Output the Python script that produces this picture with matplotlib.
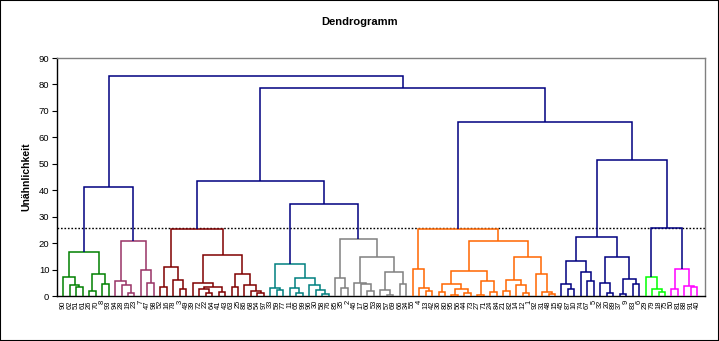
import matplotlib
matplotlib.use("Agg")
import matplotlib.pyplot as plt
from matplotlib.patches import Rectangle

plt.rcParams['font.family'] = ['Liberation Sans', 'DejaVu Sans']

# ---------------- data ----------------
leaf_labels = [90, 62, 51, 61, 26, 70, 8, 93, 94, 28, 19, 23, 7, 47, 98, 52, 16, 78, 3, 49,
               39, 72, 22, 64, 41, 43, 63, 25, 86, 68, 54, 97, 33, 59, 77, 11, 65, 99, 96, 30,
               58, 76, 85, 35, 2, 46, 17, 60, 53, 38, 57, 69, 66, 34, 55, 4, 13, 42, 36, 80,
               95, 56, 44, 73, 27, 71, 24, 84, 21, 82, 14, 12, 1, 92, 31, 48, 15, 45, 87, 10,
               74, 67, 5, 32, 20, 89, 37, 9, 83, 6, 29, 79, 18, 75, 50, 81, 88, 91, 40]

# sub-trees: (left, right, merge height); ints are leaf positions
green_tree = ((0, (1, (2, 3, 3.3), 4.2), 7.1), ((4, 5, 1.8), (6, 7, 4.5), 8.3), 16.5)
purple_tree = ((8, (9, (10, 11, 1.1), 4.0), 5.6), (12, (13, 14, 4.8), 9.7), 20.7)
darkred_tree = (((15, 16, 3.5), (17, (18, 19, 2.5), 5.9), 10.8),
                ((20, ((21, (22, 23, 1.0), 2.6), (24, 25, 1.5), 3.4), 4.9),
                 ((26, 27, 3.3), (28, (29, (30, 31, 1.3), 1.9), 4.0), 8.3), 15.5), 25.3)
teal_tree = ((32, (33, 34, 2.1), 2.9),
             ((35, (36, 37, 1.0), 2.9), (38, (39, (40, 41, 0.8), 2.2), 4.0), 6.7), 12.1)
gray_tree = ((42, (43, 44, 2.9), 6.7),
             ((45, (46, (47, 48, 2.0), 4.4), 5.0),
              ((49, (50, 51, 0.5), 2.3), (52, 53, 4.4), 9.0), 14.9), 21.6)
orange_tree = ((54, (55, (56, 57, 2.0), 2.9), 10.1),
               ((((58, 59, 1.4), ((60, 61, 0.3), (62, 63, 1.0), 2.5), 4.4),
                 ((64, 65, 0.5), (66, 67, 1.7), 5.5), 9.6),
                (((68, 69, 1.9), (70, (71, 72, 1.0), 4.0), 6.0),
                 (73, (74, (75, 76, 0.6), 1.7), 8.2), 14.6), 20.7), 25.3)
navy_tree = (((77, (78, 79, 2.8), 4.4), (80, (81, 82, 5.8), 9.2), 13.3),
             ((83, (84, 85, 1.0), 5.1), ((86, 87, 0.6), (88, 89, 4.4), 6.3), 14.6), 22.3)
lime_tree = (90, (91, (92, 93, 1.7), 2.8), 7.1)
magenta_tree = ((94, 95, 2.5), (96, (97, 98, 3.4), 3.8), 10.1)

cluster_trees = {'green': green_tree, 'purple': purple_tree, 'darkred': darkred_tree,
                 'teal': teal_tree, 'gray': gray_tree, 'orange': orange_tree,
                 'navy': navy_tree, 'lime': lime_tree, 'magenta': magenta_tree}
cluster_colors = {'green': '#008000', 'purple': '#993366', 'darkred': '#800000',
                  'teal': '#008080', 'gray': '#808080', 'orange': '#FF6600',
                  'navy': '#000080', 'lime': '#00FF00', 'magenta': '#FF00FF'}

upper_tree = (('green', 'purple', 41.2),
              (('darkred', ('teal', 'gray', 34.8), 43.5),
               ('orange', ('navy', ('lime', 'magenta', 25.7), 51.4), 65.8), 78.7), 83.2)
upper_color = '#000080'
cut_height = 25.6

# ---------------- plot ----------------
fig = plt.figure(figsize=(7.19, 3.41), dpi=100)
ax = fig.add_axes([57 / 719, 45 / 341, 648 / 719, 238 / 341])


def draw(node, color):
    if isinstance(node, int):
        return node, 0.0
    if isinstance(node, str):
        return draw(cluster_trees[node], cluster_colors[node])
    left, right, h = node
    xl, yl = draw(left, color)
    xr, yr = draw(right, color)
    ax.plot([xl, xl, xr, xr], [yl, h, h, yr], color=color, lw=1.1,
            solid_joinstyle='miter', solid_capstyle='butt', zorder=3)
    return (xl + xr) / 2, h


draw(upper_tree, upper_color)

ax.axhline(cut_height, color='black', lw=1.0, ls=(0, (1.2, 1.3)), zorder=2)

ax.set_xlim(-0.97, 99.18)
ax.set_ylim(0, 90)
ax.set_yticks(range(0, 91, 10))
ax.set_xticks(range(len(leaf_labels)))
ax.set_xticklabels([str(v) for v in leaf_labels], rotation=90, fontsize=5.4)
ax.tick_params(axis='x', length=0, pad=3)
ax.tick_params(axis='y', length=3.5, width=0.8, pad=2, labelsize=6.8, direction='out')

for s in ['top', 'right']:
    ax.spines[s].set_color('#808080')
    ax.spines[s].set_linewidth(1.0)
for s in ['left', 'bottom']:
    ax.spines[s].set_color('black')
    ax.spines[s].set_linewidth(1.0)

ax.set_ylabel('Unähnlichkeit', fontsize=7.5, fontweight='bold', labelpad=5)
fig.text(0.5, 1 - 22 / 341, 'Dendrogramm', ha='center', va='center',
         fontsize=8, fontweight='bold')

fig.patches.append(Rectangle((0, 0), 1, 1, transform=fig.transFigure, fill=False,
                             edgecolor='black', lw=1.5))

fig.savefig('out.png', dpi=100)
